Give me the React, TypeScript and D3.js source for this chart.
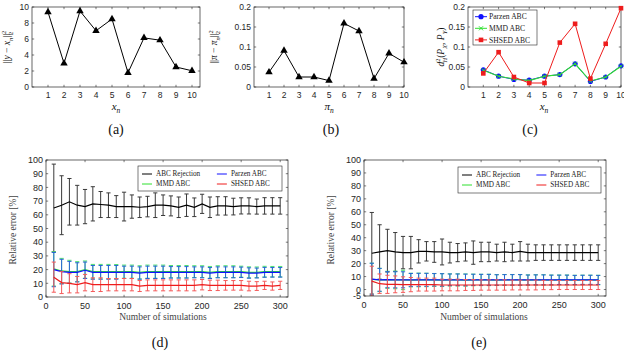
import React, { useEffect, useRef } from 'react';
import * as d3 from 'd3';

// panels (a)-(c): distances for the ten candidate points
const pointIdx = [1, 2, 3, 4, 5, 6, 7, 8, 9, 10];
const distX = [9.36, 2.97, 9.49, 7.03, 8.5, 1.78, 6.14, 5.85, 2.5, 2.03];
const distPi = [0.037, 0.091, 0.025, 0.025, 0.016, 0.159, 0.14, 0.021, 0.084, 0.062];
const hParzen = [0.043, 0.027, 0.019, 0.017, 0.027, 0.031, 0.058, 0.014, 0.025, 0.053];
const hMmd = [0.042, 0.027, 0.02, 0.016, 0.027, 0.031, 0.058, 0.015, 0.025, 0.052];
const hShsed = [0.034, 0.087, 0.025, 0.01, 0.01, 0.111, 0.158, 0.021, 0.108, 0.197];

// panels (d)-(e): relative error vs number of simulations
const sims = [10, 20, 30, 40, 50, 60, 70, 80, 90, 100, 110, 120, 130, 140, 150,
  160, 170, 180, 190, 200, 210, 220, 230, 240, 250, 260, 270, 280, 290, 300];

const rejD = [65, 67, 69.5, 67, 66, 68, 67.5, 67, 66, 66, 66, 65.5, 66, 67, 67,
  66.5, 65.5, 67, 65.5, 68, 65.5, 66.5, 66.5, 66, 66.5, 66.5, 66, 66.5, 66.5, 66.5];
const rejDErr = [32, 21.5, 17, 14.5, 12.5, 12.5, 9.5, 9, 8, 10.5, 8.5, 7.5, 7.5, 9, 7.5,
  7.3, 7.5, 8.2, 6.8, 7, 7.5, 6.7, 6.7, 6.1, 5.9, 5.9, 5.5, 6, 6, 6];
const parzenD = [20, 18.5, 18, 18, 19.5, 18, 18, 18, 18, 18, 18, 17.5, 18, 18, 18,
  18, 18, 18, 18, 18, 17.5, 18, 18, 18, 18, 17.5, 17.5, 18, 18, 18];
const parzenDErr = [12.5, 9, 8, 7, 6, 5, 5, 5, 5, 4.5, 4.5, 4.5, 4.5, 4.5, 4.5,
  4.2, 4.2, 4.2, 4, 4, 4, 4, 4, 4, 3.8, 3.8, 3.6, 3.6, 3.5, 3.5];
const mmdD = [20.5, 19, 18.5, 18.5, 20, 18.5, 18.5, 18.5, 18.5, 18.5, 18.5, 18, 18.5, 18.5, 18.5,
  18.5, 18.5, 18.5, 18.5, 18.5, 18, 18.5, 18.5, 18.5, 18.5, 18, 18, 18.5, 18.5, 18.5];
const mmdDErr = [12.5, 9.2, 8.3, 7.3, 6.3, 5.3, 5.3, 5.3, 5.2, 4.8, 4.8, 4.8, 4.8, 4.8, 4.8,
  4.5, 4.5, 4.5, 4.3, 4.3, 4.3, 4.3, 4.3, 4.3, 4, 4, 3.9, 3.9, 3.8, 3.8];
const shsedD = [14.5, 10.5, 10, 9, 10.5, 9, 9, 9, 9, 9, 9, 8, 8.5, 8.5, 8.5,
  8.5, 8.5, 8.5, 8.5, 9, 8.5, 8.5, 8.5, 8.5, 8.5, 8, 8, 8.5, 8, 8.5];
const shsedDErr = [11, 8, 7, 6, 6, 5, 5, 4.5, 4.5, 4.5, 4.5, 4, 4, 4, 4,
  4, 4, 4, 4, 3.8, 3.8, 3.8, 3.5, 3.5, 3.5, 3.5, 3.2, 3, 3, 3];

const rejE = [28, 29, 30, 29, 28.5, 28.5, 29.5, 29.5, 29, 29, 28.5, 28.5, 29, 28.5, 29,
  29, 28.5, 29, 28.5, 29.5, 28.5, 28.5, 28.5, 28.5, 28.5, 28.5, 28.5, 28.5, 28.5, 28.5];
const rejEErr = [31.5, 21, 16.5, 15, 12.5, 12.5, 9, 7.5, 8, 10, 8, 7, 7, 9, 7.5,
  7.5, 6.5, 7.5, 6.5, 7.5, 6.5, 6, 6, 6, 6, 6, 6, 6, 6, 6];
const parzenE = [8, 7.5, 7.6, 7.5, 7.5, 7.4, 7.5, 7.5, 7.5, 7.4, 7.5, 7.5, 7.4, 7.5, 7.5,
  7.5, 7.4, 7.5, 7.5, 7.5, 7.4, 7.5, 7.5, 7.4, 7.5, 7.5, 7.4, 7.5, 7.5, 7.4];
const parzenEErr = [12.3, 8.8, 6.2, 6.2, 6.2, 5, 5, 5, 4.8, 4.8, 4.5, 4.5, 4.5, 4.3, 4.2,
  4.2, 4, 4, 4, 4, 3.8, 3.8, 3.8, 3.7, 3.6, 3.6, 3.5, 3.5, 3.5, 3.5];
const mmdE = [7.8, 7.4, 7.5, 7.4, 7.4, 7.3, 7.4, 7.4, 7.4, 7.3, 7.4, 7.4, 7.3, 7.4, 7.4,
  7.4, 7.3, 7.4, 7.4, 7.4, 7.3, 7.4, 7.4, 7.3, 7.4, 7.4, 7.3, 7.4, 7.4, 7.3];
const mmdEErr = [12.5, 9, 6.6, 6.8, 7.5, 5.3, 5.3, 5.2, 5, 5, 4.7, 4.7, 4.7, 4.5, 4.4,
  4.4, 4.2, 4.2, 4.2, 4.2, 4, 4, 4, 3.9, 3.8, 3.8, 3.7, 3.7, 3.7, 3.7];
const shsedE = [6.5, 4.5, 4, 4, 3.8, 3.8, 3.8, 3.8, 3.8, 3.5, 3.5, 3.5, 3.5, 3.5, 3.5,
  3.5, 3.5, 3.5, 3.5, 3.5, 3.5, 3.5, 3.5, 3.5, 3.5, 3.5, 3.5, 3.5, 3.5, 3.5];
const shsedEErr = [11.5, 7.5, 7, 6.5, 6, 5.5, 5, 5, 5, 4.5, 4.5, 4.5, 4.2, 4.2, 4,
  4, 4, 4, 3.8, 3.8, 3.8, 3.8, 3.6, 3.6, 3.5, 3.5, 3.5, 3.5, 3.5, 3.5];

const ticksA = [0, 2, 4, 6, 8, 10];
const ticksSmall = [0, 0.05, 0.1, 0.15, 0.2];
const ticksErrD = [0, 10, 20, 30, 40, 50, 60, 70, 80, 90, 100];
const ticksErrE = [-5, 0, 10, 20, 30, 40, 50, 60, 70, 80, 90, 100];
const ticksSims = [0, 50, 100, 150, 200, 250, 300];

const legendTop = ['ABC Rejection', 'Parzen  ABC', 'MMD ABC', 'SHSED ABC'];
const legendC = ['Parzen ABC', 'MMD ABC', 'SHSED ABC'];

const SANS = "'Liberation Sans', Arial, sans-serif";
const SERIF = "'Liberation Serif', 'DejaVu Serif', serif";
const AX = '#262626';
const BLUE = '#1010ff';
const GREEN = '#2fe02f';
const RED = '#ee1c1c';

type Part = { t: string; i?: boolean; s?: 'sup' | 'sub'; dx?: number };

function rich(g: any, x: number, y: number, parts: Part[], size: number, rot = 0, fill = '#111') {
  const t = g.append('text')
    .attr('transform', `translate(${x},${y}) rotate(${rot})`)
    .attr('text-anchor', 'middle')
    .attr('font-family', SERIF)
    .attr('font-size', size)
    .attr('fill', fill);
  let cur = 0;
  parts.forEach((p) => {
    const target = p.s === 'sup' ? -size * 0.42 : p.s === 'sub' ? size * 0.28 : 0;
    const ts = t.append('tspan').attr('dy', target - cur).text(p.t);
    if (p.i) ts.attr('font-style', 'italic');
    if (p.s) ts.attr('font-size', size * 0.68);
    if (p.dx) ts.attr('dx', p.dx);
    cur = target;
  });
}

function frame(g: any, x: any, y: any, xt: number[], yt: number[], fs: number) {
  const [x0, x1] = x.range();
  const [y0, y1] = y.range();
  const tl = 2.2;
  xt.forEach((v) => {
    const px = x(v);
    g.append('line').attr('x1', px).attr('x2', px).attr('y1', y0).attr('y2', y0 - tl).attr('stroke', AX).attr('stroke-width', 0.6);
    g.append('line').attr('x1', px).attr('x2', px).attr('y1', y1).attr('y2', y1 + tl).attr('stroke', AX).attr('stroke-width', 0.6);
    g.append('text').attr('x', px).attr('y', y0 + 4 + fs * 0.85).attr('text-anchor', 'middle')
      .attr('font-family', SANS).attr('font-size', fs).attr('fill', AX).text(String(v));
  });
  yt.forEach((v) => {
    const py = y(v);
    g.append('line').attr('x1', x0).attr('x2', x0 + tl).attr('y1', py).attr('y2', py).attr('stroke', AX).attr('stroke-width', 0.6);
    g.append('line').attr('x1', x1).attr('x2', x1 - tl).attr('y1', py).attr('y2', py).attr('stroke', AX).attr('stroke-width', 0.6);
    g.append('text').attr('x', x0 - 3).attr('y', py + fs * 0.36).attr('text-anchor', 'end')
      .attr('font-family', SANS).attr('font-size', fs).attr('fill', AX).text(String(v));
  });
  g.append('rect').attr('x', x0).attr('y', y1).attr('width', x1 - x0).attr('height', y0 - y1)
    .attr('fill', 'none').attr('stroke', AX).attr('stroke-width', 0.7);
}

function triangleLine(g: any, x: any, y: any, vals: number[]) {
  const line = d3.line<number>().x((_, i) => x(pointIdx[i])).y((d) => y(d));
  g.append('path').attr('d', line(vals)).attr('fill', 'none').attr('stroke', '#000').attr('stroke-width', 1);
  const tri = d3.symbol().type(d3.symbolTriangle).size(24);
  vals.forEach((v, i) => {
    g.append('path').attr('d', tri()).attr('transform', `translate(${x(pointIdx[i])},${y(v)})`).attr('fill', '#000');
  });
}

function errSeries(g: any, x: any, y: any, m: number[], e: number[], lineCol: string, barCol: string) {
  const cap = 2.1;
  sims.forEach((s, i) => {
    const px = x(s);
    const lo = y(m[i] - e[i]);
    const hi = y(m[i] + e[i]);
    g.append('line').attr('x1', px).attr('x2', px).attr('y1', lo).attr('y2', hi).attr('stroke', barCol).attr('stroke-width', 1);
    g.append('line').attr('x1', px - cap).attr('x2', px + cap).attr('y1', lo).attr('y2', lo).attr('stroke', barCol).attr('stroke-width', 1);
    g.append('line').attr('x1', px - cap).attr('x2', px + cap).attr('y1', hi).attr('y2', hi).attr('stroke', barCol).attr('stroke-width', 1);
  });
  const line = d3.line<number>().x((_, i) => x(sims[i])).y((d) => y(d));
  g.append('path').attr('d', line(m)).attr('fill', 'none').attr('stroke', lineCol).attr('stroke-width', 1.2);
}

function errLegend(g: any, bx: number, by: number, w: number, h: number) {
  g.append('rect').attr('x', bx).attr('y', by).attr('width', w).attr('height', h)
    .attr('fill', '#fff').attr('stroke', AX).attr('stroke-width', 0.6);
  const cols = ['#000', BLUE, GREEN, RED];
  legendTop.forEach((lab, i) => {
    const cx = bx + 4 + (i % 2) * (w * 0.52);
    const cy = by + 8 + Math.floor(i / 2) * 10;
    g.append('line').attr('x1', cx).attr('x2', cx + 10).attr('y1', cy).attr('y2', cy).attr('stroke', cols[i]).attr('stroke-width', 1);
    g.append('text').attr('x', cx + 14).attr('y', cy + 2.4).attr('font-family', SERIF).attr('font-size', 7.2)
      .attr('fill', '#222').text(lab);
  });
}

export default function App() {
  const ref = useRef<SVGSVGElement>(null);

  useEffect(() => {
    const svg = d3.select(ref.current);
    svg.selectAll('*').remove();

    // (a)
    const ga = svg.append('g');
    const xa = d3.scaleLinear().domain([0, 10.5]).range([32, 200]);
    const ya = d3.scaleLinear().domain([0, 10]).range([87, 7]);
    frame(ga, xa, ya, pointIdx, ticksA, 8.5);
    triangleLine(ga, xa, ya, distX);
    rich(ga, 116, 110, [{ t: 'x', i: true }, { t: 'n', i: true, s: 'sub' }], 11);
    rich(ga, 10, 47, [{ t: '||' }, { t: 'y', i: true }, { t: ' − ' }, { t: 'x', i: true }, { t: 'n', i: true, s: 'sub' },
      { t: '||' }, { t: '2', s: 'sup' }, { t: '2', s: 'sub', dx: -4.2 }], 9.5, -90);
    rich(ga, 116, 134, [{ t: '(a)' }], 14);

    // (b)
    const gb = svg.append('g');
    const xb = d3.scaleLinear().domain([0, 10]).range([254, 404]);
    const yb = d3.scaleLinear().domain([0, 0.2]).range([87, 7]);
    frame(gb, xb, yb, pointIdx, ticksSmall, 8.5);
    triangleLine(gb, xb, yb, distPi);
    rich(gb, 329, 110, [{ t: 'π', i: true }, { t: 'n', i: true, s: 'sub' }], 11);
    rich(gb, 217, 47, [{ t: '||' }, { t: 'π', i: true }, { t: ' − ' }, { t: 'π', i: true }, { t: 'n', i: true, s: 'sub' },
      { t: '||' }, { t: '2', s: 'sup' }, { t: '2', s: 'sub', dx: -4.2 }], 9.5, -90);
    rich(gb, 331, 134, [{ t: '(b)' }], 14);

    // (c)
    const gc = svg.append('g');
    const xc = d3.scaleLinear().domain([0, 10]).range([468, 621]);
    const yc = d3.scaleLinear().domain([0, 0.2]).range([87, 7]);
    frame(gc, xc, yc, pointIdx, ticksSmall, 8.5);
    const lc = d3.line<number>().x((_, i) => xc(pointIdx[i])).y((d) => yc(d));
    gc.append('path').attr('d', lc(hParzen)).attr('fill', 'none').attr('stroke', BLUE).attr('stroke-width', 1);
    hParzen.forEach((v, i) => gc.append('circle').attr('cx', xc(pointIdx[i])).attr('cy', yc(v)).attr('r', 2.6).attr('fill', BLUE));
    gc.append('path').attr('d', lc(hMmd)).attr('fill', 'none').attr('stroke', GREEN).attr('stroke-width', 1.1);
    hMmd.forEach((v, i) => {
      const px = xc(pointIdx[i]);
      const py = yc(v);
      gc.append('path').attr('d', `M${px - 2},${py - 2}L${px + 2},${py + 2}M${px - 2},${py + 2}L${px + 2},${py - 2}`)
        .attr('stroke', GREEN).attr('stroke-width', 0.9);
    });
    gc.append('path').attr('d', lc(hShsed)).attr('fill', 'none').attr('stroke', RED).attr('stroke-width', 1);
    hShsed.forEach((v, i) => gc.append('rect').attr('x', xc(pointIdx[i]) - 2.3).attr('y', yc(v) - 2.3)
      .attr('width', 4.6).attr('height', 4.6).attr('fill', RED));
    // legend (c)
    gc.append('rect').attr('x', 473).attr('y', 10).attr('width', 64).attr('height', 35)
      .attr('fill', '#fff').attr('stroke', AX).attr('stroke-width', 0.6);
    legendC.forEach((lab, i) => {
      const cy = 16.7 + i * 11.6;
      const col = [BLUE, GREEN, RED][i];
      gc.append('line').attr('x1', 475).attr('x2', 487).attr('y1', cy).attr('y2', cy).attr('stroke', col).attr('stroke-width', 1);
      if (i === 0) gc.append('circle').attr('cx', 481).attr('cy', cy).attr('r', 2.6).attr('fill', BLUE);
      if (i === 1) gc.append('path').attr('d', `M479,${cy - 2}L483,${cy + 2}M479,${cy + 2}L483,${cy - 2}`).attr('stroke', GREEN);
      if (i === 2) gc.append('rect').attr('x', 478.7).attr('y', cy - 2.3).attr('width', 4.6).attr('height', 4.6).attr('fill', RED);
      gc.append('text').attr('x', 489).attr('y', cy + 2.6).attr('font-family', SERIF).attr('font-size', 7.6)
        .attr('fill', '#222').text(lab);
    });
    rich(gc, 544, 110, [{ t: 'x', i: true }, { t: 'n', i: true, s: 'sub' }], 11);
    rich(gc, 444, 47, [{ t: 'd', i: true }, { t: '2', s: 'sup' }, { t: 'H', i: true, s: 'sub', dx: -4 }, { t: '(' },
      { t: 'P', i: true }, { t: 'X', i: true, s: 'sub' }, { t: ', ' }, { t: 'P', i: true }, { t: 'Y', i: true, s: 'sub' }, { t: ')' }], 9.5, -90);
    rich(gc, 530, 134, [{ t: '(c)' }], 14);

    // (d)
    const gd = svg.append('g');
    const xd = d3.scaleLinear().domain([0, 310]).range([46, 288]);
    const yd = d3.scaleLinear().domain([0, 100]).range([297, 160]);
    svg.append('defs').append('clipPath').attr('id', 'clipD').append('rect')
      .attr('x', 46).attr('y', 160).attr('width', 242).attr('height', 137);
    const pd = gd.append('g').attr('clip-path', 'url(#clipD)');
    errSeries(pd, xd, yd, rejD, rejDErr, '#000', '#3a3a3a');
    errSeries(pd, xd, yd, mmdD, mmdDErr, GREEN, '#4fe070');
    errSeries(pd, xd, yd, parzenD, parzenDErr, BLUE, '#2a64d6');
    errSeries(pd, xd, yd, shsedD, shsedDErr, RED, '#f45a5a');
    frame(gd, xd, yd, ticksSims, ticksErrD, 9);
    errLegend(gd, 138, 166, 144, 25);
    gd.append('text').attr('x', 163).attr('y', 320).attr('text-anchor', 'middle').attr('font-family', SERIF)
      .attr('font-size', 9.5).attr('fill', '#444').text('Number of simulations');
    gd.append('text').attr('transform', 'translate(16,230) rotate(-90)').attr('text-anchor', 'middle')
      .attr('font-family', SERIF).attr('font-size', 9.5).attr('fill', '#444').text('Relative error [%]');
    rich(gd, 160, 347, [{ t: '(d)' }], 14);

    // (e)
    const ge = svg.append('g');
    const xe = d3.scaleLinear().domain([0, 310]).range([364, 606]);
    const ye = d3.scaleLinear().domain([-5, 100]).range([296, 160]);
    svg.append('defs').append('clipPath').attr('id', 'clipE').append('rect')
      .attr('x', 364).attr('y', 160).attr('width', 242).attr('height', 136);
    const pe = ge.append('g').attr('clip-path', 'url(#clipE)');
    errSeries(pe, xe, ye, rejE, rejEErr, '#000', '#3a3a3a');
    errSeries(pe, xe, ye, mmdE, mmdEErr, GREEN, '#4fe070');
    errSeries(pe, xe, ye, parzenE, parzenEErr, BLUE, '#2a64d6');
    errSeries(pe, xe, ye, shsedE, shsedEErr, RED, '#f45a5a');
    frame(ge, xe, ye, ticksSims, ticksErrE, 9);
    errLegend(ge, 458, 167, 143, 26);
    ge.append('text').attr('x', 484).attr('y', 320).attr('text-anchor', 'middle').attr('font-family', SERIF)
      .attr('font-size', 9.5).attr('fill', '#444').text('Number of simulations');
    ge.append('text').attr('transform', 'translate(334,230) rotate(-90)').attr('text-anchor', 'middle')
      .attr('font-family', SERIF).attr('font-size', 9.5).attr('fill', '#444').text('Relative error [%]');
    rich(ge, 479, 347, [{ t: '(e)' }], 14);
  }, []);

  return (
    <svg ref={ref} width={624} height={353} style={{ position: 'absolute', left: 0, top: 0, background: '#fff' }} />
  );
}
